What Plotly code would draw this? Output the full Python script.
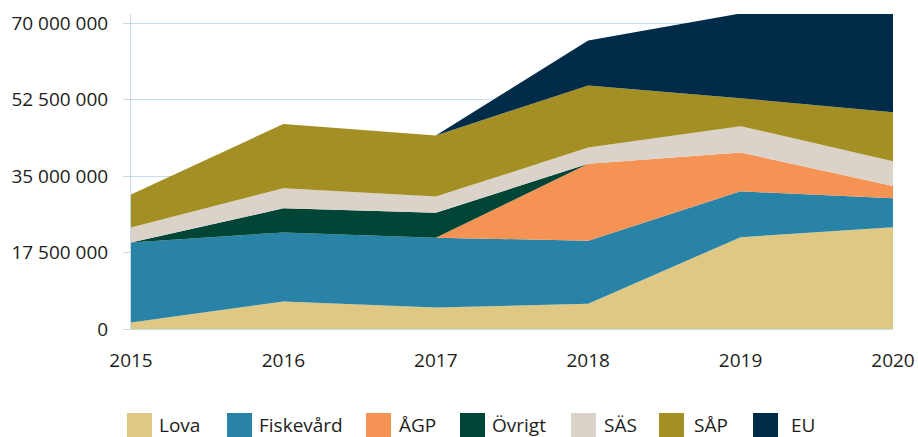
import plotly.graph_objects as go

years = [2015, 2016, 2017, 2018, 2019, 2020]
series_names = ["Lova", "Fiskevård", "ÅGP", "Övrigt", "SÄS", "SÅP", "EU"]
lova = [1.5e6, 6.3e6, 4.9e6, 5.8e6, 21.0e6, 23.3e6]
fiskevard = [18.3e6, 15.8e6, 16.0e6, 14.4e6, 10.5e6, 6.6e6]
agp = [0, 0, 0, 17.6e6, 8.9e6, 2.8e6]
ovrigt = [0, 5.5e6, 5.7e6, 0, 0, 0]
sas = [3.4e6, 4.6e6, 3.7e6, 3.7e6, 6.0e6, 5.7e6]
sap = [7.6e6, 14.7e6, 14.0e6, 14.2e6, 6.4e6, 11.2e6]
eu = [0, 0, 0, 10.3e6, 19.4e6, 22.6e6]
values = [lova, fiskevard, agp, ovrigt, sas, sap, eu]
colors = ["#dfc884", "#2983a7", "#f49353", "#004536", "#dbd3ca", "#a48f24", "#002c4a"]
y_ticks = [0, 17_500_000, 35_000_000, 52_500_000, 70_000_000]
y_ticktext = [f"{v:,}".replace(",", " ") for v in y_ticks]

W, H = 918, 437
ML, MR, MT, MB = 131, 25, 14, 108
grid = "#c6dcea"
txt = "#1d1d1b"
font = "Open Sans"

fig = go.Figure()
for name, vals, col in zip(series_names, values, colors):
    fig.add_trace(go.Scatter(
        x=years, y=vals, name=name, mode="lines", stackgroup="one",
        line=dict(width=0, color=col), fillcolor=col, showlegend=False,
        hoverinfo="x+y+name",
    ))

# manual legend (layout positions in pixels)
legend_sq_x = [127, 227, 366, 460, 571, 659, 753]
legend_lbl_x = [157, 257, 397, 490, 602, 692, 789]
pw = W - ML - MR
ph = H - MT - MB
def px2x(px):
    return (px - ML) / pw
def py2y(py):
    return (H - MB - py) / ph

shapes = []
annotations = []
for name, col, sx, lx in zip(series_names, colors, legend_sq_x, legend_lbl_x):
    shapes.append(dict(type="rect", xref="paper", yref="paper",
                       x0=px2x(sx), x1=px2x(sx + 25), y0=py2y(413), y1=py2y(440),
                       fillcolor=col, line=dict(width=0)))
    annotations.append(dict(text=name, xref="paper", yref="paper",
                            x=px2x(lx), y=py2y(425), xanchor="left", yanchor="middle",
                            showarrow=False, font=dict(family=font, size=19, color=txt)))

fig.update_layout(
    width=W, height=H,
    margin=dict(l=ML, r=MR, t=MT, b=MB, autoexpand=False),
    paper_bgcolor="white", plot_bgcolor="white",
    showlegend=False,
    shapes=shapes, annotations=annotations,
    xaxis=dict(range=[2015, 2020], tickvals=years, ticktext=[str(y) for y in years],
               showgrid=False, zeroline=False, showline=True, linecolor=grid, linewidth=1,
               ticks="", ticklabelstandoff=14, automargin=False,
               tickfont=dict(family=font, size=19, color=txt)),
    yaxis=dict(range=[0, 72.07e6], tickvals=y_ticks, ticktext=y_ticktext,
               showgrid=True, gridcolor=grid, gridwidth=1, zeroline=False,
               showline=True, linecolor=grid, linewidth=1,
               ticks="outside", ticklen=7, tickcolor=grid, ticklabelstandoff=11,
               automargin=False,
               tickfont=dict(family=font, size=19, color=txt)),
)
fig.write_html("out.html", config={"displayModeBar": False},
               post_script="document.body.style.margin='0';document.body.style.overflow='hidden';")
